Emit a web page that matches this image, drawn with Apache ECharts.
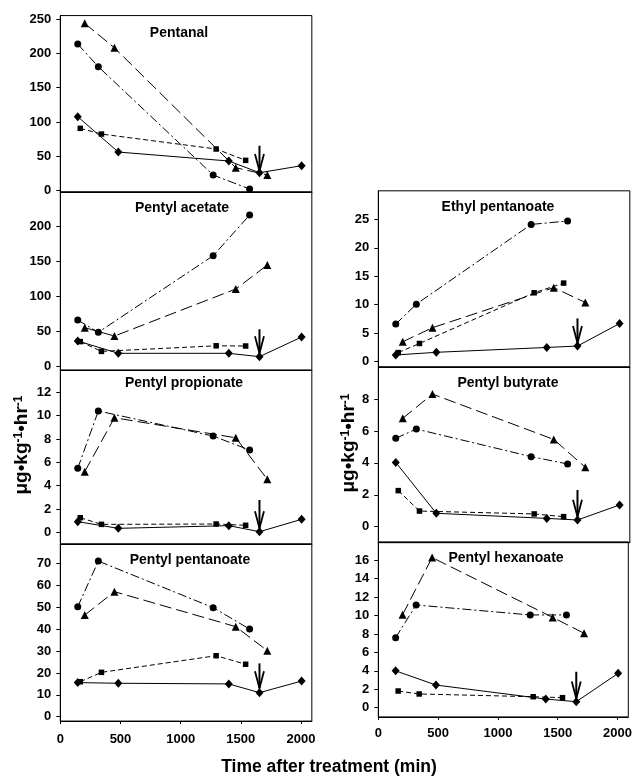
<!DOCTYPE html>
<html><head><meta charset="utf-8">
<script src="https://cdn.jsdelivr.net/npm/echarts@6/dist/echarts.min.js"></script>
<style>html,body{margin:0;padding:0;background:#fff}#c{width:635px;height:777px}</style>
</head><body><div id="c"></div>
<script>
// ---- sampling times (min) per treatment series ----
const circleTimes   = [145, 316, 1270, 1573];
const triangleTimes = [203, 450, 1458, 1720];
const squareTimes   = [166, 342, 1295, 1540];
const diamondTimes  = [145, 482, 1400, 1655, 2005];
const xTicks = [0, 500, 1000, 1500, 2000];

const panelNames = ['Pentanal', 'Pentyl acetate', 'Pentyl propionate', 'Pentyl pentanoate',
                    'Ethyl pentanoate', 'Pentyl butyrate', 'Pentyl hexanoate'];

// ---- values (µg·kg-1·hr-1) ----
const pentanalCircle   = [213.5, 180.5, 22.8, 2.5];
const pentanalTriangle = [243.7, 208, 33.5, 22.9];
const pentanalSquare   = [90.8, 82.5, 60.7, 44.2];
const pentanalDiamond  = [107.7, 56.3, 43.2, 26.2, 36.4];

const acetateCircle   = [66, 48.4, 158.3, 216.7];
const acetateTriangle = [55, 43, 110.5, 145];
const acetateSquare   = [35, 21, 29, 28.7];
const acetateDiamond  = [35.9, 18.2, 18.2, 13.4, 41.6];

const propionateCircle   = [5.48, 10.4, 8.25, 7.05];
const propionateTriangle = [5.2, 9.82, 8.1, 4.54];
const propionateSquare   = [1.25, 0.68, 0.71, 0.6];
const propionateDiamond  = [0.91, 0.34, 0.57, 0.05, 1.11];

const pentanoateCircle   = [50.3, 71.2, 49.9, 40.1];
const pentanoateTriangle = [46.5, 57.2, 41.2, 30.2];
const pentanoateSquare   = [16, 20.3, 27.9, 24];
const pentanoateDiamond  = [15.6, 15.3, 15, 11, 16.3];

const ethylCircle   = [6.6, 10.1, 24.1, 24.7];
const ethylTriangle = [3.5, 5.97, 13.0, 10.4];
const ethylSquare   = [1.6, 3.2, 12.1, 13.8];
const ethylDiamond  = [1.18, 1.65, 2.5, 2.75, 6.7];

const butyrateCircle   = [5.54, 6.12, 4.39, 3.93];
const butyrateTriangle = [6.79, 8.31, 5.47, 3.72];
const butyrateSquare   = [2.26, 0.98, 0.8, 0.63];
const butyrateDiamond  = [4.03, 0.84, 0.52, 0.42, 1.36];

const hexanoateCircle   = [7.6, 11.15, 10.07, 10.07];
const hexanoateTriangle = [10.1, 16.3, 9.8, 8.08];
const hexanoateSquare   = [1.81, 1.49, 1.19, 1.09];
const hexanoateDiamond  = [4.0, 2.46, 0.94, 0.65, 3.73];

// ---- y tick labels ----
const pentanalTicks   = [0, 50, 100, 150, 200, 250];
const acetateTicks    = [0, 50, 100, 150, 200];
const propionateTicks = [0, 2, 4, 6, 8, 10, 12];
const pentanoateTicks = [0, 10, 20, 30, 40, 50, 60, 70];
const ethylTicks      = [0, 5, 10, 15, 20, 25];
const butyrateTicks   = [0, 2, 4, 6, 8];
const hexanoateTicks  = [0, 2, 4, 6, 8, 10, 12, 14, 16];

// ---- arrows: time, [start value, tip value] ----
const arrowTime = 1655;
const pentanalArrow   = [65.5, 28.7];
const acetateArrow    = [52.7, 18.2];
const propionateArrow = [2.77, 0.34];
const pentanoateArrow = [24.4, 13];
const ethylArrow      = [7.6, 3.3];
const butyrateArrow   = [2.3, 0.63];
const hexanoateArrow  = [3.9, 1.0];

// ---- assemble ----
const panelValues = [
  [pentanalCircle, pentanalTriangle, pentanalSquare, pentanalDiamond],
  [acetateCircle, acetateTriangle, acetateSquare, acetateDiamond],
  [propionateCircle, propionateTriangle, propionateSquare, propionateDiamond],
  [pentanoateCircle, pentanoateTriangle, pentanoateSquare, pentanoateDiamond],
  [ethylCircle, ethylTriangle, ethylSquare, ethylDiamond],
  [butyrateCircle, butyrateTriangle, butyrateSquare, butyrateDiamond],
  [hexanoateCircle, hexanoateTriangle, hexanoateSquare, hexanoateDiamond]
];
const panelTicks = [pentanalTicks, acetateTicks, propionateTicks, pentanoateTicks, ethylTicks, butyrateTicks, hexanoateTicks];
const panelArrows = [pentanalArrow, acetateArrow, propionateArrow, pentanoateArrow, ethylArrow, butyrateArrow, hexanoateArrow];
const seriesTimes = [circleTimes, triangleTimes, squareTimes, diamondTimes];

// layout: column left px, pixel of zero, px per unit, axis min/max, title centre, show x labels, label margin
const layout = [
  {left: 60.3,  zeroY: 190.7, ppu: 0.6868, min: -2,   max: 255,  tx: 179, ty: 33,  xl: false},
  {left: 60.3,  zeroY: 366.0, ppu: 0.6965, min: -6,   max: 250,  tx: 182, ty: 208, xl: false},
  {left: 60.3,  zeroY: 532.3, ppu: 11.667, min: -1,   max: 13.9, tx: 184, ty: 383, xl: false},
  {left: 60.3,  zeroY: 716.7, ppu: 2.1857, min: -2,   max: 79,   tx: 190, ty: 560, xl: true, xm: 12},
  {left: 378.3, zeroY: 361.7, ppu: 5.696,  min: -0.9, max: 30,   tx: 498, ty: 207, xl: false},
  {left: 378.3, zeroY: 526.7, ppu: 15.96,  min: -1,   max: 10,   tx: 508, ty: 383, xl: false},
  {left: 378.3, zeroY: 707.7, ppu: 9.2125, min: -1,   max: 18,   tx: 506, ty: 558, xl: true, xm: 10}
];
const X_MAX = 2090;
const PLOT_W = 0.12035 * X_MAX;
const FONT = 'Liberation Sans, Arial, Helvetica, sans-serif';

const styles = [
  {symbol: 'circle',   size: 7,     dash: [9, 3, 2, 3]},
  {symbol: 'triangle', size: 8,     dash: [12, 5]},
  {symbol: 'rect',     size: 5.5,   dash: [5, 3]},
  {symbol: 'diamond',  size: [8, 9], dash: 'solid'}
];

const grids = [], xAxes = [], yAxes = [], series = [], graphics = [];
layout.forEach((L, i) => {
  const top = L.zeroY - L.max * L.ppu;
  const height = (L.max - L.min) * L.ppu;
  grids.push({left: L.left, top: top, width: PLOT_W, height: height,
    show: true, borderColor: '#000', borderWidth: 1, backgroundColor: 'transparent', containLabel: false});
  xAxes.push({type: 'value', gridIndex: i, min: 0, max: X_MAX,
    axisLine: {show: true, onZero: false, lineStyle: {color: '#000', width: 1}},
    axisTick: {show: L.xl, length: 3, customValues: xTicks, lineStyle: {color: '#000'}},
    axisLabel: {show: L.xl, customValues: xTicks, margin: L.xm || 10, color: '#000',
      formatter: v => String(v),
      fontFamily: FONT, fontWeight: 'bold', fontSize: 13},
    splitLine: {show: false}});
  yAxes.push({type: 'value', gridIndex: i, min: L.min, max: L.max,
    axisLine: {show: true, onZero: false, lineStyle: {color: '#000', width: 1}},
    axisTick: {show: true, length: 4, customValues: panelTicks[i], lineStyle: {color: '#000'}},
    axisLabel: {show: true, customValues: panelTicks[i], margin: 9, color: '#000',
      formatter: v => String(v),
      fontFamily: FONT, fontWeight: 'bold', fontSize: 13},
    splitLine: {show: false}});
  panelValues[i].forEach((vals, s) => {
    const st = styles[s];
    series.push({type: 'line', xAxisIndex: i, yAxisIndex: i,
      data: seriesTimes[s].map((t, k) => [t, vals[k]]),
      symbol: st.symbol, symbolSize: st.size, showSymbol: true,
      lineStyle: {color: '#000', width: 1, type: st.dash},
      itemStyle: {color: '#000', borderWidth: 0},
      emphasis: {disabled: true}, silent: true, z: s === 3 ? 4 : 3, clip: false});
  });
  series.push({type: 'custom', xAxisIndex: i, yAxisIndex: i, silent: true, z: 5,
    data: [[arrowTime, panelArrows[i][0], panelArrows[i][1]]],
    encode: {x: 0, y: [1, 2]},
    renderItem: function (params, api) {
      const p1 = api.coord([api.value(0), api.value(1)]);
      const p2 = api.coord([api.value(0), api.value(2)]);
      return {type: 'group', children: [
        {type: 'line', shape: {x1: p1[0], y1: p1[1], x2: p2[0], y2: p2[1]},
          style: {stroke: '#000', lineWidth: 2}},
        {type: 'polyline', shape: {points: [[p2[0] - 4.5, p2[1] - 17], [p2[0], p2[1]], [p2[0] + 4.5, p2[1] - 17]]},
          style: {stroke: '#000', lineWidth: 1.8, fill: null}}
      ]};
    }});
  graphics.push({type: 'text', x: L.tx, y: L.ty, silent: true,
    style: {text: panelNames[i], fill: '#000', font: 'bold 14px ' + FONT,
      align: 'center', verticalAlign: 'middle', textAlign: 'center', textVerticalAlign: 'middle'}});
});

const yTitleRich = {
  m: {font: 'bold 19px ' + FONT, fill: '#000', color: '#000'},
  s: {font: 'bold 12px ' + FONT, fill: '#000', color: '#000', verticalAlign: 'top'}
};
const yTitleText = '{m|\u03bcg\u2022kg}{s|-1}{m|\u2022hr}{s|-1}';
[[22, 445], [349, 443]].forEach(p => {
  graphics.push({type: 'text', x: p[0], y: p[1], rotation: Math.PI / 2, silent: true,
    style: {text: yTitleText, rich: yTitleRich, fill: '#000',
      align: 'center', verticalAlign: 'middle', textAlign: 'center', textVerticalAlign: 'middle'}});
});
graphics.push({type: 'text', x: 329, y: 767, silent: true,
  style: {text: 'Time after treatment (min)', fill: '#000', font: 'bold 17.5px ' + FONT,
    align: 'center', verticalAlign: 'middle', textAlign: 'center', textVerticalAlign: 'middle'}});

const chart = echarts.init(document.getElementById('c'), null, {renderer: 'canvas'});
chart.setOption({
  backgroundColor: '#fff',
  animation: false,
  grid: grids, xAxis: xAxes, yAxis: yAxes, series: series,
  graphic: graphics
});
</script></body></html>
